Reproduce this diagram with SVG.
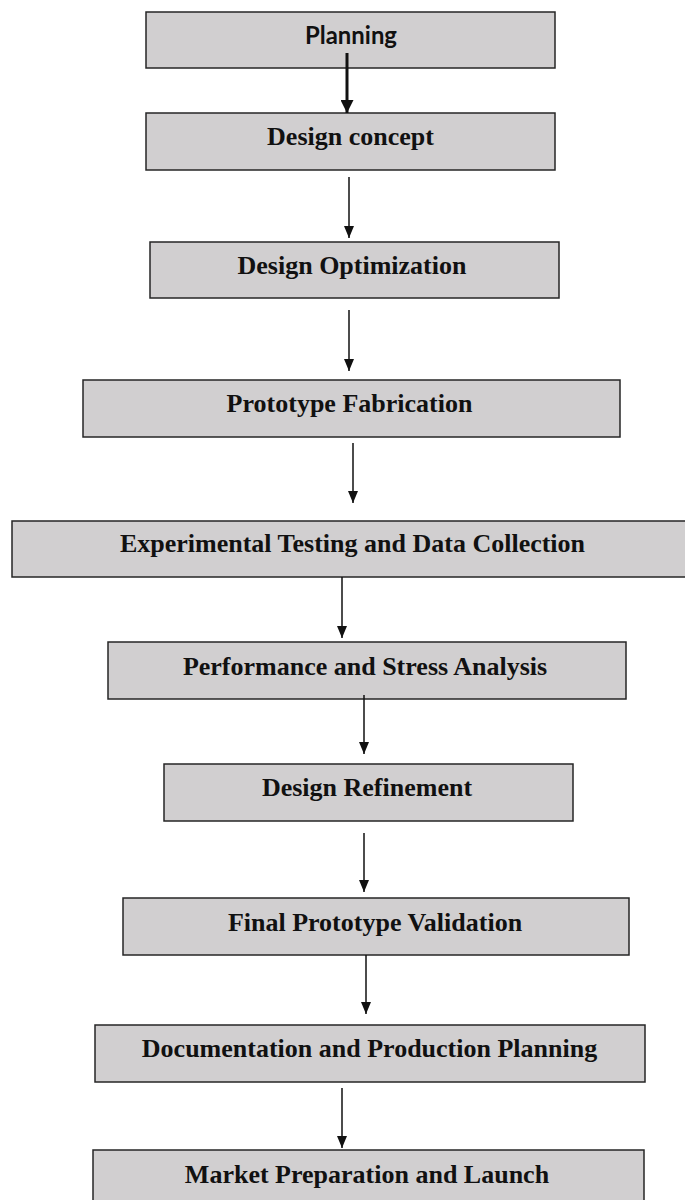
<svg xmlns="http://www.w3.org/2000/svg" width="685" height="1200" viewBox="0 0 685 1200">
  <defs>
    <style>
      .box { fill: #d1cfd0; stroke: #262626; stroke-width: 1.5; }
      .lbl { font-family: "Liberation Serif", "Times New Roman", serif; font-weight: bold; font-size: 26px; fill: #111; text-anchor: middle; }
      .lbl-sans { font-family: Lato, "Liberation Sans", sans-serif; font-weight: bold; font-size: 24px; fill: #111; text-anchor: middle; }
      .conn { stroke: #111; stroke-width: 1.5; fill: none; marker-end: url(#head); }
      .conn-bold { stroke: #111; stroke-width: 3; fill: none; marker-end: url(#head-bold); }
    </style>
    <marker id="head" viewBox="0 0 12 10" refX="12" refY="5" markerWidth="12" markerHeight="10" markerUnits="userSpaceOnUse" orient="auto">
      <path d="M0,0 L12,5 L0,10 z" fill="#111"/>
    </marker>
    <marker id="head-bold" viewBox="0 0 13 13" refX="13" refY="6.5" markerWidth="13" markerHeight="13" markerUnits="userSpaceOnUse" orient="auto">
      <path d="M0,0 L13,6.5 L0,13 z" fill="#111"/>
    </marker>
  </defs>

  <rect width="685" height="1200" fill="#ffffff"/>

  <!-- process steps -->
  <g id="planning">
    <rect class="box" x="146" y="12" width="409" height="56"/>
    <text class="lbl-sans" x="351" y="43.5" textLength="92" lengthAdjust="spacingAndGlyphs">Planning</text>
  </g>
  <g id="design-concept">
    <rect class="box" x="146" y="113" width="409" height="57"/>
    <text class="lbl" x="350.5" y="145">Design concept</text>
  </g>
  <g id="design-optimization">
    <rect class="box" x="150" y="242" width="409" height="56"/>
    <text class="lbl" x="352" y="274">Design Optimization</text>
  </g>
  <g id="prototype-fabrication">
    <rect class="box" x="83" y="380" width="537" height="57"/>
    <text class="lbl" x="349.5" y="412">Prototype Fabrication</text>
  </g>
  <g id="experimental-testing">
    <rect class="box" x="12" y="521" width="680" height="56"/>
    <text class="lbl" x="352.5" y="551.5">Experimental Testing and Data Collection</text>
  </g>
  <g id="performance-analysis">
    <rect class="box" x="108" y="642" width="518" height="57"/>
    <text class="lbl" x="365" y="675">Performance and Stress Analysis</text>
  </g>
  <g id="design-refinement">
    <rect class="box" x="164" y="764" width="409" height="57"/>
    <text class="lbl" x="367" y="796">Design Refinement</text>
  </g>
  <g id="final-validation">
    <rect class="box" x="123" y="898" width="506" height="57"/>
    <text class="lbl" x="375" y="930.5">Final Prototype Validation</text>
  </g>
  <g id="documentation">
    <rect class="box" x="95" y="1025" width="550" height="57"/>
    <text class="lbl" x="369.5" y="1057">Documentation and Production Planning</text>
  </g>
  <g id="market-launch">
    <rect class="box" x="93" y="1150" width="551" height="60"/>
    <text class="lbl" x="367" y="1182.5">Market Preparation and Launch</text>
  </g>

  <!-- connectors -->
  <g id="connectors">
    <line class="conn-bold" x1="347" y1="53" x2="347" y2="113"/>
    <line class="conn" x1="349" y1="177" x2="349" y2="238"/>
    <line class="conn" x1="349" y1="310" x2="349" y2="371"/>
    <line class="conn" x1="353" y1="443" x2="353" y2="503"/>
    <line class="conn" x1="342" y1="577" x2="342" y2="638"/>
    <line class="conn" x1="364" y1="695" x2="364" y2="754"/>
    <line class="conn" x1="364" y1="833" x2="364" y2="892"/>
    <line class="conn" x1="366" y1="955" x2="366" y2="1014"/>
    <line class="conn" x1="342" y1="1088" x2="342" y2="1148"/>
  </g>
</svg>
